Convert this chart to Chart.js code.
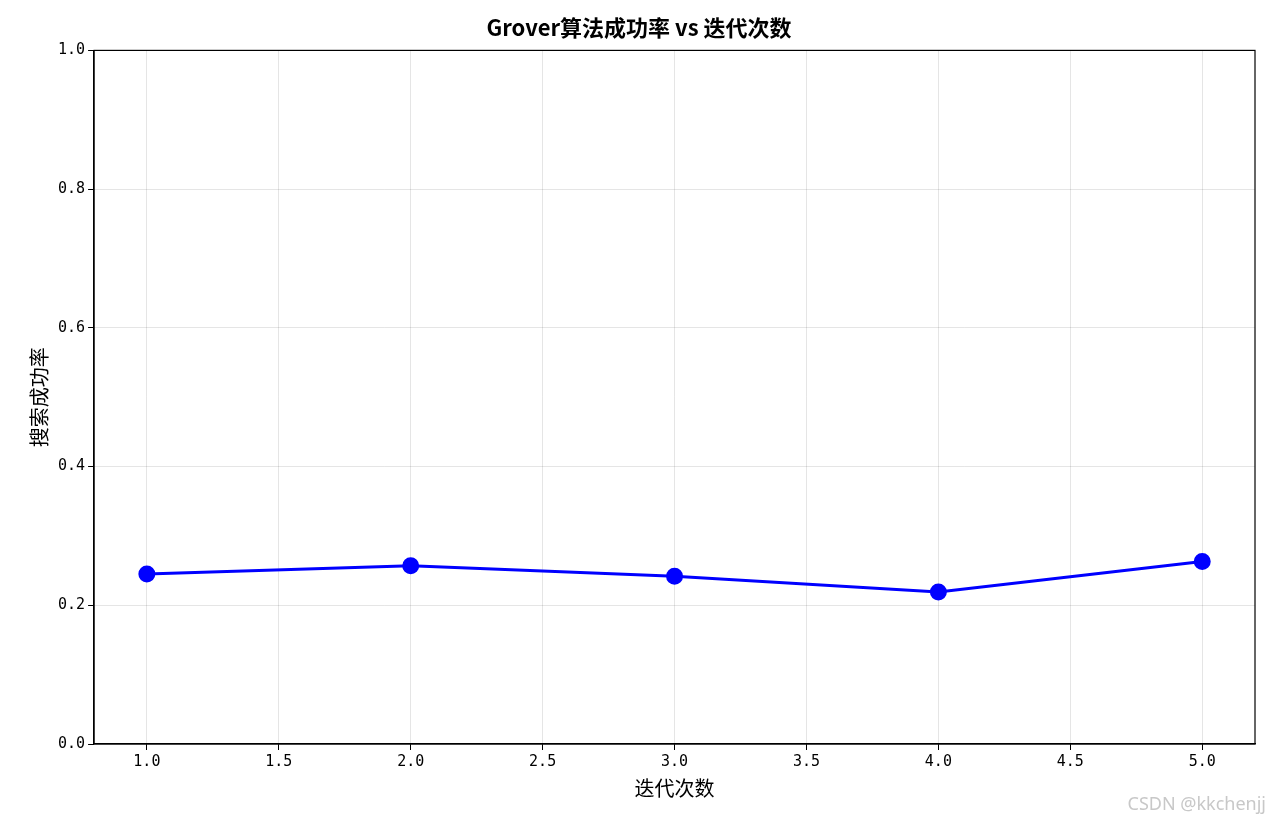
<!DOCTYPE html>
<html><head><meta charset="utf-8">
<script src="https://cdn.jsdelivr.net/npm/chart.js@4"></script>
<style>
body{margin:0;background:#fff;}
#wrap{position:relative;width:1270px;height:823px;}
#mark{position:absolute;right:4px;bottom:8px;font:18px "Noto Sans",sans-serif;color:#c8c8c8;}
</style></head><body>
<div id="wrap"><canvas id="c" width="1270" height="823"></canvas><div id="mark">CSDN @kkchenjj</div></div>
<script>
const iterations = [1, 2, 3, 4, 5];
const successRate = [0.245, 0.257, 0.242, 0.219, 0.263];
const xTicks = [1.0, 1.5, 2.0, 2.5, 3.0, 3.5, 4.0, 4.5, 5.0];
const yTicks = [0.0, 0.2, 0.4, 0.6, 0.8, 1.0];

const FONT = '"DejaVu Sans Mono", "Noto Sans CJK SC", monospace';
const CJK = '"Noto Sans CJK SC", sans-serif';

new Chart(document.getElementById("c"), {
  type: 'line',
  data: {
    datasets: [{
      data: iterations.map((x, i) => ({x: x, y: successRate[i]})),
      borderColor: '#0000ff',
      backgroundColor: '#0000ff',
      borderWidth: 3,
      pointRadius: 7,
      pointHoverRadius: 7,
      tension: 0
    }]
  },
  options: {
    responsive: false,
    animation: false,
    layout: {padding: {left: 23, right: 15, top: 14, bottom: 19}},
    plugins: {
      legend: {display: false},
      tooltip: {enabled: false},
      title: {display: true, text: 'Grover算法成功率 vs 迭代次数', color: '#000',
        font: {family: CJK, size: 22}, padding: {top: 0, bottom: 10}}
    },
    scales: {
      x: {
        type: 'linear', min: 0.8, max: 5.2,
        afterBuildTicks: s => { s.ticks = xTicks.map(v => ({value: v})); },
        ticks: {color: '#000', font: {family: FONT, size: 15}, callback: v => v.toFixed(1), maxRotation: 0},
        grid: {color: 'rgba(0,0,0,0.1)', drawTicks: true, tickColor: '#000', tickLength: 6},
        border: {color: '#000', width: 1.2},
        title: {display: true, text: '迭代次数', color: '#000', font: {family: CJK, size: 20}, padding: {top: 2}}
      },
      y: {
        min: 0, max: 1,
        afterBuildTicks: s => { s.ticks = yTicks.map(v => ({value: v})); },
        ticks: {color: '#000', font: {family: FONT, size: 15}, callback: v => v.toFixed(1)},
        grid: {color: 'rgba(0,0,0,0.1)', tickColor: '#000', tickLength: 6},
        border: {color: '#000', width: 1.2},
        title: {display: true, text: '搜索成功率', color: '#000', font: {family: CJK, size: 20}, padding: {bottom: 4}}
      }
    }
  },
  plugins: [{
    id: 'frame',
    afterDraw(chart) {
      const {ctx, chartArea: a} = chart;
      ctx.save();
      ctx.strokeStyle = '#000';
      ctx.lineWidth = 1.2;
      ctx.strokeRect(a.left, a.top, a.right - a.left, a.bottom - a.top);
      ctx.restore();
    }
  }]
});
</script>
</body></html>
